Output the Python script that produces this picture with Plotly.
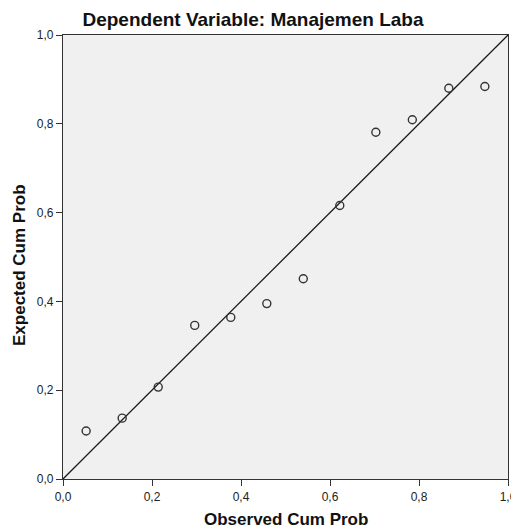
import plotly.graph_objects as go

observed = [0.052, 0.133, 0.214, 0.296, 0.377, 0.458, 0.540, 0.622, 0.703, 0.785, 0.867, 0.948]
expected = [0.108, 0.137, 0.207, 0.346, 0.364, 0.395, 0.451, 0.616, 0.781, 0.809, 0.880, 0.884]
ref_line = [0.0, 1.0]
tick_vals = [0.0, 0.2, 0.4, 0.6, 0.8, 1.0]
tick_text = ["0,0", "0,2", "0,4", "0,6", "0,8", "1,0"]

FONT = "Liberation Sans, Arial"
# page has an 8px body margin: figure is offset by 8px and extends to the window edge
OFF = 8
W, H = 519 - OFF, 531 - OFF

fig = go.Figure()
fig.add_trace(go.Scatter(x=ref_line, y=ref_line, mode="lines",
                         line=dict(color="#1a1a1a", width=1.3),
                         hoverinfo="skip", showlegend=False))
fig.add_trace(go.Scatter(x=observed, y=expected, mode="markers",
                         marker=dict(symbol="circle-open", size=8,
                                     color="#333333", line=dict(width=1.4)),
                         showlegend=False))

axis_common = dict(range=[0, 1], tickvals=tick_vals, ticktext=tick_text,
                   ticks="outside", ticklen=6, tickcolor="#333333", tickwidth=1.2,
                   showgrid=False, zeroline=False, showline=True,
                   linecolor="#333333", linewidth=1.2, mirror=True,
                   automargin=False,
                   tickfont=dict(family=FONT, size=12, color="#222222"))

fig.update_layout(
    width=W, height=H,
    margin=dict(l=63 - OFF, r=519 - 508, t=35 - OFF, b=531 - 479),
    paper_bgcolor="white", plot_bgcolor="#F0F0F0",
    title=dict(text="<b>Dependent Variable: Manajemen Laba</b>",
               x=(253 - OFF) / W, xref="container", xanchor="center",
               y=1 - (19 - OFF) / H, yref="container", yanchor="middle",
               font=dict(family=FONT, size=19, color="#111111")),
    xaxis=dict(**axis_common),
    yaxis=dict(**axis_common),
    annotations=[
        dict(text="<b>Observed Cum Prob</b>", xref="paper", yref="paper",
             x=0.5, y=-(519 - 479) / 444, xanchor="center", yanchor="middle",
             showarrow=False, font=dict(family=FONT, size=17, color="#111111")),
        dict(text="<b>Expected Cum Prob</b>", xref="paper", yref="paper",
             x=(19 - 63) / 445, y=(479 - 265) / 444, xanchor="center", yanchor="middle",
             textangle=-90, showarrow=False,
             font=dict(family=FONT, size=17, color="#111111")),
    ],
)

fig.write_html("out.html")
